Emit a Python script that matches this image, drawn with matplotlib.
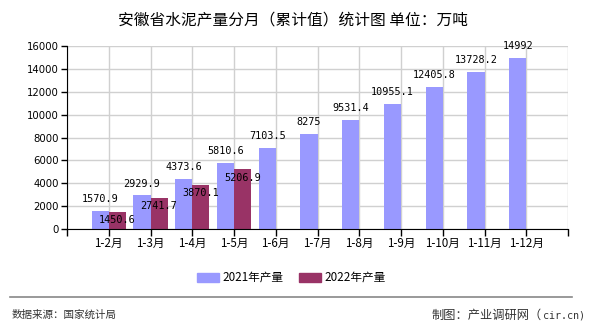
import matplotlib
matplotlib.use("Agg")
import matplotlib.pyplot as plt
from matplotlib.patches import Rectangle
from matplotlib.lines import Line2D

plt.rcParams['font.family'] = ['Noto Sans CJK SC', 'DejaVu Sans']

categories = ["1-2月", "1-3月", "1-4月", "1-5月", "1-6月", "1-7月", "1-8月",
              "1-9月", "1-10月", "1-11月", "1-12月"]
v2021 = [1570.9, 2929.9, 4373.6, 5810.6, 7103.5, 8275, 9531.4,
         10955.1, 12405.8, 13728.2, 14992]
v2022 = [1450.6, 2741.7, 3870.1, 5206.9]
labels2021 = ["1570.9", "2929.9", "4373.6", "5810.6", "7103.5", "8275", "9531.4",
              "10955.1", "12405.8", "13728.2", "14992"]
labels2022 = ["1450.6", "2741.7", "3870.1", "5206.9"]
yticks = [0, 2000, 4000, 6000, 8000, 10000, 12000, 14000, 16000]

c2021 = "#9999ff"
c2022 = "#993366"

fig = plt.figure(figsize=(5.9, 3.3), dpi=100)
ax = fig.add_axes([67/590, 1-229/330, (568-67)/590, (229-46)/330])

w = 0.41
x = list(range(len(categories)))
ax.bar([i - w/2 for i in x], v2021, width=w, color=c2021, zorder=3)
ax.bar([i + w/2 for i in range(len(v2022))], v2022, width=w, color=c2022, zorder=3)

for i, (v, s) in enumerate(zip(v2021, labels2021)):
    ax.annotate(s, (i - w/2, v), xytext=(0, 8.6), textcoords="offset points",
                ha="center", va="center", fontsize=7.3, family="DejaVu Sans Mono",
                color="black", zorder=5)
for i, (v, s) in enumerate(zip(v2022, labels2022)):
    ax.annotate(s, (i + w/2, v), xytext=(0, -5.8), textcoords="offset points",
                ha="center", va="center", fontsize=7.3, family="DejaVu Sans Mono",
                color="black", zorder=5)

ax.set_xlim(-1, 11)
ax.set_ylim(0, 16000)
ax.set_yticks(yticks)
ax.set_yticklabels([str(t) for t in yticks], fontsize=7.3, family="DejaVu Sans")
ax.set_xticks(list(range(-1, 12)))
ax.set_xticklabels([""] + categories + [""], fontsize=8.4)
ax.tick_params(axis='x', length=5, width=1, color='black', pad=1)
ax.tick_params(axis='y', length=4, width=1, color='black', pad=2)
ax.grid(True, color="#d0d0d0", linewidth=1, zorder=0)
for s in ["top", "right"]:
    ax.spines[s].set_visible(False)
ax.spines["left"].set_color("black")
ax.spines["bottom"].set_color("black")
ax.spines["left"].set_zorder(4)
ax.spines["bottom"].set_zorder(4)

fig.text(293/590, 1-20/330, "安徽省水泥产量分月（累计值）统计图 单位：万吨",
         ha="center", va="center", fontsize=11.3, color="black")

# legend
fig.patches.append(Rectangle((197/590, 1-282/330), 22/590, 9/330,
                             transform=fig.transFigure, color=c2021))
fig.text(222/590, 1-277.5/330, "2021年产量", ha="left", va="center", fontsize=8.4)
fig.patches.append(Rectangle((299/590, 1-282/330), 22/590, 9/330,
                             transform=fig.transFigure, color=c2022))
fig.text(324/590, 1-277.5/330, "2022年产量", ha="left", va="center", fontsize=8.4)

fig.lines.append(Line2D([10/590, 572/590], [1-297/330, 1-297/330],
                        transform=fig.transFigure, color="#888888", linewidth=1.2))
fig.text(12/590, 1-315/330, "数据来源：国家统计局", ha="left", va="center",
         fontsize=7.6, color="#333333")
fig.text(585/590, 1-315/330, "cir.cn)", ha="right", va="center",
         fontsize=7.2, family="DejaVu Sans Mono", color="#333333")
fig.text(542/590, 1-315/330, "制图：产业调研网（", ha="right", va="center",
         fontsize=8.8, color="#333333")

fig.savefig("out.png", dpi=100)
